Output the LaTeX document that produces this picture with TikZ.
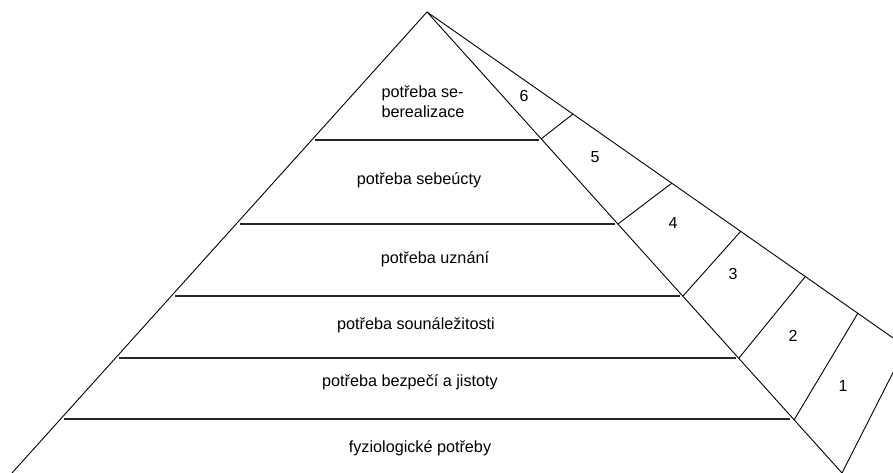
\documentclass[tikz,border=0pt]{standalone}
\usepackage{fontspec}
\setmainfont{Liberation Sans}
\begin{document}
\begin{tikzpicture}[x=1pt,y=-1pt,
  side/.style={draw=black,line width=0.9pt},
  level/.style={draw=black!85,line width=1.4pt},
  lbl/.style={inner sep=0pt,font=\fontsize{16.2}{20}\selectfont},
  num/.style={inner sep=0pt,font=\fontsize{16}{18}\selectfont}]
\useasboundingbox (0,0) rectangle (893,473);
\clip (0,0) rectangle (893,473);
\fill[white] (0,0) rectangle (893,473);
% apex and base
\coordinate (A) at (427,12);
\coordinate (BL) at (12,473);
\coordinate (BR) at (842,473);
% level lines
\coordinate (L1) at (315,140);  \coordinate (R1) at (539,140);
\coordinate (L2) at (240,224);  \coordinate (R2) at (615,224);
\coordinate (L3) at (175,296);  \coordinate (R3) at (680,296);
\coordinate (L4) at (119,358);  \coordinate (R4) at (736,358);
\coordinate (L5) at (64,419);   \coordinate (R5) at (790,419);
% division points on pyramid side
\coordinate (S1) at (541,139);
\coordinate (S2) at (618,224);
\coordinate (S3) at (683,296);
\coordinate (S4) at (739,358);
\coordinate (S5) at (794,420);
% points on outer line
\coordinate (O1) at (573,114);
\coordinate (O2) at (672,183);
\coordinate (O3) at (741,231);
\coordinate (O4) at (805,277);
\coordinate (O5) at (858,313);
\coordinate (OC) at (906,347);
% pyramid
\draw[side] (BL) -- (A) -- (BR);
\draw[side] (A) -- (OC) -- (BR);
\foreach \i in {1,...,5}{
  \draw[level] (L\i) -- (R\i);
  \draw[side] (S\i) -- (O\i);
}
% labels
\node[lbl,align=left] (t6) at (423,102) {potřeba se-\\berealizace};
\node[lbl] (t5) at (419,180) {potřeba sebeúcty};
\node[lbl] (t4) at (435,259) {potřeba uznání};
\node[lbl] (t3) at (416,325) {potřeba sounáležitosti};
\node[lbl] (t2) at (410,382) {potřeba bezpečí a jistoty};
\node[lbl] (t1) at (420,448) {fyziologické potřeby};
% numbers
\node[num] (n6) at (524,96) {6};
\node[num] (n5) at (595,157) {5};
\node[num] (n4) at (673,223) {4};
\node[num] (n3) at (733,274) {3};
\node[num] (n2) at (793,336) {2};
\node[num] (n1) at (843,386) {1};
\end{tikzpicture}
\end{document}
